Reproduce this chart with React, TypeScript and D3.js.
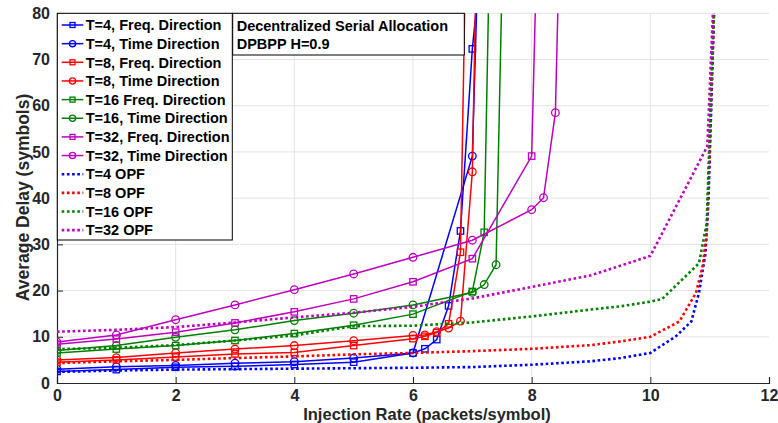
import { useEffect, useRef } from 'react';
import * as d3 from 'd3';

// ---- data ----
const t4FreqX = [0, 1, 2, 3, 4, 5, 6, 6.2, 6.4, 6.6, 6.8, 7.0, 7.2];
const t4FreqY = [2.5, 2.9, 3.4, 3.6, 4.0, 4.5, 6.5, 7.4, 9.4, 16.7, 32.9, 72.3, 98];
const t4TimeX = [0, 1, 2, 3, 4, 5, 6, 7, 7.2];
const t4TimeY = [3.0, 3.5, 3.8, 4.3, 4.6, 5.4, 6.5, 49.1, 137];
const t8FreqX = [0, 1, 2, 3, 4, 5, 6, 6.2, 6.4, 6.6, 6.8, 7.0];
const t8FreqY = [4.5, 5.0, 5.6, 6.3, 6.6, 8.1, 9.6, 10.1, 10.9, 12.8, 28.3, 176];
const t8TimeX = [0, 1, 2, 3, 4, 5, 6, 6.2, 6.4, 6.6, 6.8, 7.0, 7.2];
const t8TimeY = [5.0, 5.5, 6.5, 7.35, 8.1, 9.15, 10.3, 10.4, 11.1, 11.9, 13.4, 45.7, 183];
const t16FreqX = [0, 1, 2, 3, 4, 5, 6, 7, 7.2, 7.4];
const t16FreqY = [6.5, 7.35, 8.1, 9.2, 10.7, 12.5, 14.9, 19.8, 32.6, 168];
const t16TimeX = [0, 1, 2, 3, 4, 5, 6, 7, 7.2, 7.4, 7.6];
const t16TimeY = [7.05, 8.1, 9.9, 11.5, 13.5, 15.1, 16.9, 19.6, 21.3, 25.6, 147];
const t32FreqX = [0, 1, 2, 3, 4, 5, 6, 7, 8, 8.2];
const t32FreqY = [8.4, 9.5, 11.0, 13.0, 15.4, 18.2, 21.9, 26.9, 49.1, 152];
const t32TimeX = [0, 1, 2, 3, 4, 5, 6, 7, 8, 8.2, 8.4, 8.6];
const t32TimeY = [8.86, 10.4, 13.7, 16.9, 20.2, 23.6, 27.2, 30.9, 37.5, 40.1, 58.5, 166];

const opf4X = [0, 1, 2, 3, 4, 5, 6, 7, 8, 9, 9.5, 10, 10.43, 10.69, 10.82, 10.93, 10.98, 11.12];
const opf4Y = [2.4, 2.7, 2.9, 3.0, 3.1, 3.2, 3.3, 3.45, 3.95, 4.7, 5.4, 6.5, 10.1, 13.3, 19.5, 28.1, 39.6, 100];
const opf8X = [0, 1, 2, 3, 4, 5, 6, 7, 8, 9, 9.5, 10, 10.49, 10.77, 10.88, 10.95, 10.99, 11.12];
const opf8Y = [4.3, 4.7, 5.0, 5.4, 5.75, 6.2, 6.5, 6.9, 7.4, 8.2, 9.0, 10.0, 13.3, 19.5, 25.2, 32.4, 46.8, 100];
const opf16X = [0, 1, 2, 3, 4, 5, 6, 7, 8, 9, 9.5, 10, 10.2, 10.82, 10.95, 11.12];
const opf16Y = [7.35, 7.6, 8.2, 9.2, 10.3, 12.3, 12.4, 13.1, 14.4, 15.9, 16.6, 17.6, 18.2, 25.9, 34.6, 100];
const opf32X = [0, 1, 2, 3, 4, 5, 6, 7, 8, 9, 10, 10.96, 11.12];
const opf32Y = [11.1, 11.5, 12.1, 13.1, 14.2, 15.2, 16.5, 18.3, 20.8, 23.3, 27.5, 51.2, 100];

const xTicks = [0, 2, 4, 6, 8, 10, 12];
const yTicks = [0, 10, 20, 30, 40, 50, 60, 70, 80];

const BLUE = '#0000ff';
const RED = '#ff0000';
const GREEN = '#008000';
const MAGENTA = '#bf00bf';

type Series = {
  name: string;
  xs: number[];
  ys: number[];
  color: string;
  marker: 'square' | 'circle' | 'none';
};

const series: Series[] = [
  { name: 'T=4, Freq. Direction', xs: t4FreqX, ys: t4FreqY, color: BLUE, marker: 'square' },
  { name: 'T=4, Time Direction', xs: t4TimeX, ys: t4TimeY, color: BLUE, marker: 'circle' },
  { name: 'T=8, Freq. Direction', xs: t8FreqX, ys: t8FreqY, color: RED, marker: 'square' },
  { name: 'T=8, Time Direction', xs: t8TimeX, ys: t8TimeY, color: RED, marker: 'circle' },
  { name: 'T=16 Freq. Direction', xs: t16FreqX, ys: t16FreqY, color: GREEN, marker: 'square' },
  { name: 'T=16, Time Direction', xs: t16TimeX, ys: t16TimeY, color: GREEN, marker: 'circle' },
  { name: 'T=32, Freq. Direction', xs: t32FreqX, ys: t32FreqY, color: MAGENTA, marker: 'square' },
  { name: 'T=32, Time Direction', xs: t32TimeX, ys: t32TimeY, color: MAGENTA, marker: 'circle' },
  { name: 'T=4 OPF', xs: opf4X, ys: opf4Y, color: BLUE, marker: 'none' },
  { name: 'T=8 OPF', xs: opf8X, ys: opf8Y, color: RED, marker: 'none' },
  { name: 'T=16 OPF', xs: opf16X, ys: opf16Y, color: GREEN, marker: 'none' },
  { name: 'T=32 OPF', xs: opf32X, ys: opf32Y, color: MAGENTA, marker: 'none' },
];

const W = 778;
const H = 423;
const FONT = '"Liberation Sans", Arial, Helvetica, sans-serif';

function drawMarker(
  g: d3.Selection<SVGGElement, unknown, null, undefined>,
  kind: string,
  cx: number,
  cy: number,
  color: string,
  size: number
) {
  if (kind === 'square') {
    g.append('rect')
      .attr('x', cx - size / 2)
      .attr('y', cy - size / 2)
      .attr('width', size)
      .attr('height', size)
      .attr('fill', 'none')
      .attr('stroke', color)
      .attr('stroke-width', 1.3);
  } else if (kind === 'circle') {
    g.append('circle')
      .attr('cx', cx)
      .attr('cy', cy)
      .attr('r', size / 2 + 0.6)
      .attr('fill', 'none')
      .attr('stroke', color)
      .attr('stroke-width', 1.3);
  }
}

export default function App() {
  const ref = useRef<SVGSVGElement>(null);

  useEffect(() => {
    if (!ref.current) return;
    const svg = d3.select(ref.current);
    svg.selectAll('*').remove();

    const margin = { top: 13.3, right: 9, bottom: 40, left: 57 };
    const x = d3.scaleLinear().domain([0, 12]).range([margin.left, W - margin.right]);
    const y = d3.scaleLinear().domain([0, 80]).range([H - margin.bottom, margin.top]);
    const [x0, x1] = x.range();
    const [y0, y1] = y.range();

    svg
      .append('defs')
      .append('clipPath')
      .attr('id', 'plot-clip')
      .append('rect')
      .attr('x', x0)
      .attr('y', y1)
      .attr('width', x1 - x0)
      .attr('height', y0 - y1);

    // grid
    const grid = svg.append('g').attr('stroke', '#e3e3e3').attr('stroke-width', 1);
    xTicks
      .filter(t => t > 0 && t < 12)
      .forEach(t => {
        grid.append('line').attr('x1', x(t)).attr('x2', x(t)).attr('y1', y0).attr('y2', y1);
      });
    yTicks
      .filter(t => t > 0)
      .forEach(t => {
        grid.append('line').attr('x1', x0).attr('x2', x1).attr('y1', y(t)).attr('y2', y(t));
      });

    // axes
    const axisColor = '#262626';
    const xAxis = svg
      .append('g')
      .attr('transform', `translate(0,${y0})`)
      .call(d3.axisBottom(x).tickValues(xTicks).tickSize(-6).tickPadding(7).tickFormat(d3.format('d')));
    xAxis.select('.domain').attr('stroke', axisColor).attr('stroke-width', 1.2);
    xAxis.selectAll('line').attr('stroke', axisColor);
    xAxis
      .selectAll('text')
      .attr('fill', axisColor)
      .style('font-family', FONT)
      .style('font-weight', 'bold')
      .style('font-size', '16px');

    const yAxis = svg
      .append('g')
      .attr('transform', `translate(${x0},0)`)
      .call(d3.axisLeft(y).tickValues(yTicks).tickSize(-6).tickPadding(7).tickFormat(d3.format('d')));
    yAxis.select('.domain').attr('stroke', axisColor).attr('stroke-width', 1.2);
    yAxis.selectAll('line').attr('stroke', axisColor);
    yAxis
      .selectAll('text')
      .attr('fill', axisColor)
      .style('font-family', FONT)
      .style('font-weight', 'bold')
      .style('font-size', '16px');

    // axis labels
    svg
      .append('text')
      .attr('x', 427)
      .attr('y', 420)
      .attr('text-anchor', 'middle')
      .attr('fill', axisColor)
      .style('font-family', FONT)
      .style('font-weight', 'bold')
      .style('font-size', '16.5px')
      .text('Injection Rate (packets/symbol)');
    svg
      .append('text')
      .attr('transform', `translate(29,197.5) rotate(-90)`)
      .attr('text-anchor', 'middle')
      .attr('fill', axisColor)
      .style('font-family', FONT)
      .style('font-weight', 'bold')
      .style('font-size', '17.5px')
      .text('Average Delay (symbols)');

    // series
    const plot = svg.append('g').attr('clip-path', 'url(#plot-clip)');
    const line = d3
      .line<[number, number]>()
      .x(d => x(d[0]))
      .y(d => y(d[1]));

    series.forEach(s => {
      const pts = s.xs.map((v, i) => [v, s.ys[i]] as [number, number]);
      const isOpf = s.marker === 'none';
      plot
        .append('path')
        .attr('d', line(pts))
        .attr('fill', 'none')
        .attr('stroke', s.color)
        .attr('stroke-width', isOpf ? 2.6 : 1.5)
        .attr('stroke-dasharray', isOpf ? '2.6,2.6' : null);
      if (!isOpf) {
        const mg = plot.append('g');
        pts.forEach(p => drawMarker(mg, s.marker, x(p[0]), y(p[1]), s.color, 6.4));
      }
    });

    // legend
    const lg = svg.append('g');
    lg.append('rect')
      .attr('x', 57.3)
      .attr('y', 13.3)
      .attr('width', 175)
      .attr('height', 226.7)
      .attr('fill', 'white')
      .attr('stroke', 'black')
      .attr('stroke-width', 1);
    series.forEach((s, i) => {
      const cy = 25 + i * 18.65;
      const isOpf = s.marker === 'none';
      lg.append('line')
        .attr('x1', 61.7)
        .attr('x2', 83.3)
        .attr('y1', cy)
        .attr('y2', cy)
        .attr('stroke', s.color)
        .attr('stroke-width', isOpf ? 2.6 : 1.5)
        .attr('stroke-dasharray', isOpf ? '2.6,2.6' : null);
      if (!isOpf) drawMarker(lg, s.marker, 72.5, cy, s.color, 5);
      lg.append('text')
        .attr('x', 85.7)
        .attr('y', cy + 5.2)
        .attr('fill', 'black')
        .style('font-family', FONT)
        .style('font-weight', 'bold')
        .style('font-size', '14.5px')
        .text(s.name);
    });

    // annotation box
    const ann = svg.append('g');
    ann.append('rect')
      .attr('x', 232.7)
      .attr('y', 13.3)
      .attr('width', 231.6)
      .attr('height', 41.7)
      .attr('fill', 'white')
      .attr('stroke', 'black')
      .attr('stroke-width', 1);
    ['Decentralized Serial Allocation', 'DPBPP H=0.9'].forEach((t, i) => {
      ann.append('text')
        .attr('x', 236.7)
        .attr('y', 31.2 + i * 18)
        .attr('fill', 'black')
        .style('font-family', FONT)
        .style('font-weight', 'bold')
        .style('font-size', '14.5px')
        .text(t);
    });
  }, []);

  return (
    <svg
      ref={ref}
      width={W}
      height={H}
      style={{ position: 'absolute', left: 0, top: 0, background: 'white' }}
    />
  );
}
